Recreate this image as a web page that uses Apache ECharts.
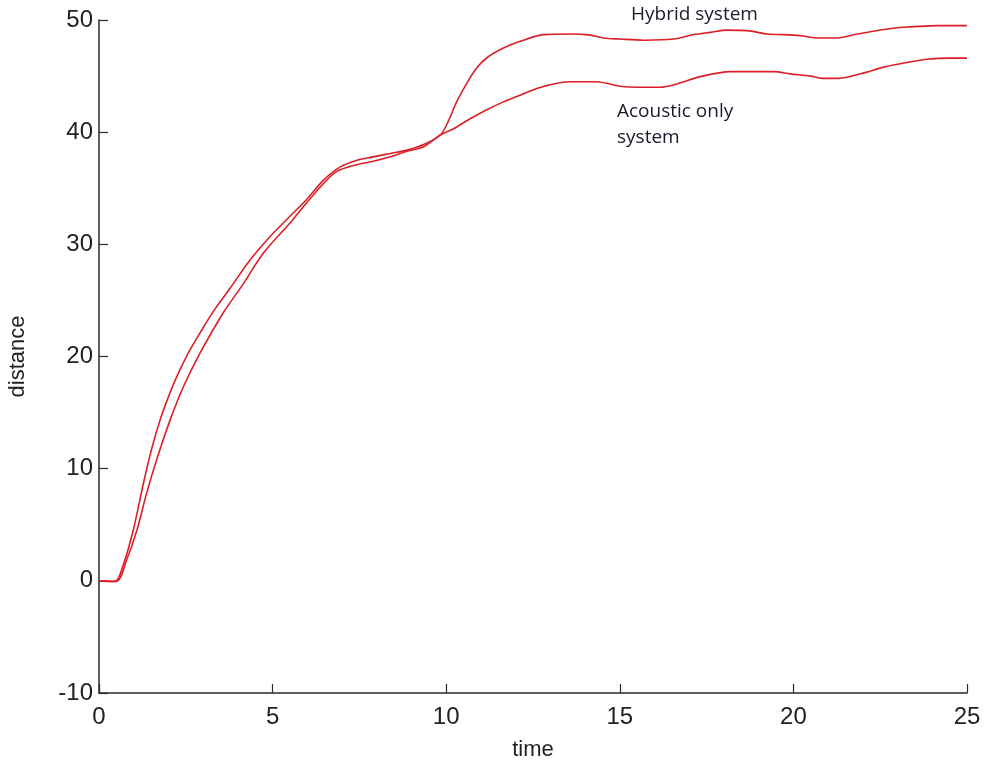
<!DOCTYPE html>
<html>
<head>
<meta charset="utf-8">
<title>distance vs time</title>
<script src="https://cdn.jsdelivr.net/npm/echarts@6/dist/echarts.min.js"></script>
<style>
  html, body { margin: 0; padding: 0; background: #ffffff; }
  #chart { width: 987px; height: 767px; }
</style>
</head>
<body>
<div id="chart"></div>
<script>
// Hybrid system trajectory
const hybridTime = [0, 0.46, 0.70, 0.99, 1.28, 1.52, 1.76, 2.0, 2.24, 2.57, 2.91, 3.29, 3.78, 4.35, 4.93, 5.50, 5.98, 6.46, 6.95, 7.43, 7.9, 8.39, 8.87, 9.35, 9.83, 10.05, 10.3, 10.6, 10.9, 11.2, 11.65, 12.13, 12.8, 13.57, 14.05, 14.53, 15.01, 15.69, 16.55, 17.13, 17.61, 18.09, 18.67, 19.24, 19.72, 20.2, 20.73, 21.26, 21.84, 22.22, 22.6, 23.18, 24.14, 25];
const hybridDist = [0, -0.05, 1.43, 4.55, 8.7, 11.8, 14.35, 16.4, 18.2, 20.3, 22.1, 24.0, 26.1, 28.6, 30.7, 32.5, 34.0, 35.7, 36.9, 37.5, 37.8, 38.1, 38.4, 38.9, 39.75, 40.9, 42.7, 44.4, 45.8, 46.7, 47.5, 48.1, 48.7, 48.75, 48.7, 48.4, 48.3, 48.2, 48.3, 48.7, 48.9, 49.1, 49.05, 48.75, 48.7, 48.6, 48.4, 48.4, 48.75, 48.95, 49.15, 49.35, 49.5, 49.5];

// Acoustic-only trajectory
const acousticTime = [0, 0.5, 0.80, 1.09, 1.37, 1.66, 2.05, 2.43, 2.91, 3.58, 4.16, 4.73, 5.50, 5.98, 6.46, 6.85, 7.43, 7.9, 8.39, 8.87, 9.35, 9.83, 10.21, 10.69, 11.17, 11.65, 12.13, 12.61, 13.09, 13.57, 14.34, 15.01, 15.5, 16.17, 16.65, 17.32, 18.18, 19.43, 19.91, 20.49, 20.83, 21.3, 21.93, 22.6, 23.08, 23.85, 24.52, 25];
const acousticDist = [0, -0.05, 1.9, 4.5, 7.8, 10.8, 14.35, 17.3, 20.3, 23.9, 26.5, 29.2, 31.9, 33.7, 35.4, 36.5, 37.1, 37.4, 37.8, 38.3, 38.7, 39.75, 40.3, 41.2, 42.0, 42.7, 43.3, 43.9, 44.3, 44.5, 44.5, 44.1, 44.0, 44.0, 44.3, 44.95, 45.4, 45.4, 45.2, 45.0, 44.8, 44.8, 45.2, 45.8, 46.1, 46.5, 46.6, 46.6];

const xTicks = [0, 5, 10, 15, 20, 25];
const yTicks = [-10, 0, 10, 20, 30, 40, 50];

const zip = (xs, ys) => xs.map((x, i) => [x, ys[i]]);

const lineRed = '#dc1f26';
const axisInk = '#2a2a2a';
const tickFont = { fontFamily: 'Liberation Sans, Arial, sans-serif', fontSize: 24, color: '#222' };
const noteFont = '19px "Open Sans", sans-serif';

const chart = echarts.init(document.getElementById('chart'), null, { renderer: 'canvas' });

chart.setOption({
  animation: false,
  backgroundColor: '#ffffff',
  grid: { left: 99, right: 20, top: 20, bottom: 74, containLabel: false, outerBoundsMode: 'none' },
  xAxis: {
    type: 'value',
    min: xTicks[0],
    max: xTicks[xTicks.length - 1],
    interval: 5,
    name: 'time',
    nameLocation: 'middle',
    nameGap: 46,
    nameTextStyle: { fontFamily: 'Liberation Sans, Arial, sans-serif', fontSize: 22, color: '#222' },
    axisLine: { show: true, onZero: false, lineStyle: { color: axisInk, width: 1.5 } },
    axisTick: { show: true, inside: true, length: 9, lineStyle: { color: axisInk, width: 1.2 } },
    axisLabel: Object.assign({ margin: 12 }, tickFont),
    splitLine: { show: false }
  },
  yAxis: {
    type: 'value',
    min: yTicks[0],
    max: yTicks[yTicks.length - 1],
    interval: 10,
    name: 'distance',
    nameLocation: 'middle',
    nameGap: 70,
    nameRotate: 90,
    nameTextStyle: { fontFamily: 'Liberation Sans, Arial, sans-serif', fontSize: 22, color: '#222' },
    axisLine: { show: true, onZero: false, lineStyle: { color: axisInk, width: 1.5 } },
    axisTick: { show: true, inside: true, length: 9, lineStyle: { color: axisInk, width: 1.2 } },
    axisLabel: Object.assign({ margin: 6 }, tickFont),
    splitLine: { show: false }
  },
  series: [
    {
      name: 'Hybrid system',
      type: 'line',
      data: zip(hybridTime, hybridDist),
      smooth: 0.3,
      symbol: 'none',
      lineStyle: { color: lineRed, width: 1.6 }
    },
    {
      name: 'Acoustic only system',
      type: 'line',
      data: zip(acousticTime, acousticDist),
      smooth: 0.3,
      symbol: 'none',
      lineStyle: { color: lineRed, width: 1.6 }
    }
  ],
  graphic: [
    {
      type: 'text', left: 631, top: 5,
      style: { text: 'Hybrid system', font: noteFont, fill: '#1a1a2a' }
    },
    {
      type: 'text', left: 617, top: 99,
      style: { text: 'Acoustic only\nsystem', font: noteFont, fill: '#1a1a2a', lineHeight: 26 }
    }
  ]
});
</script>
</body>
</html>
